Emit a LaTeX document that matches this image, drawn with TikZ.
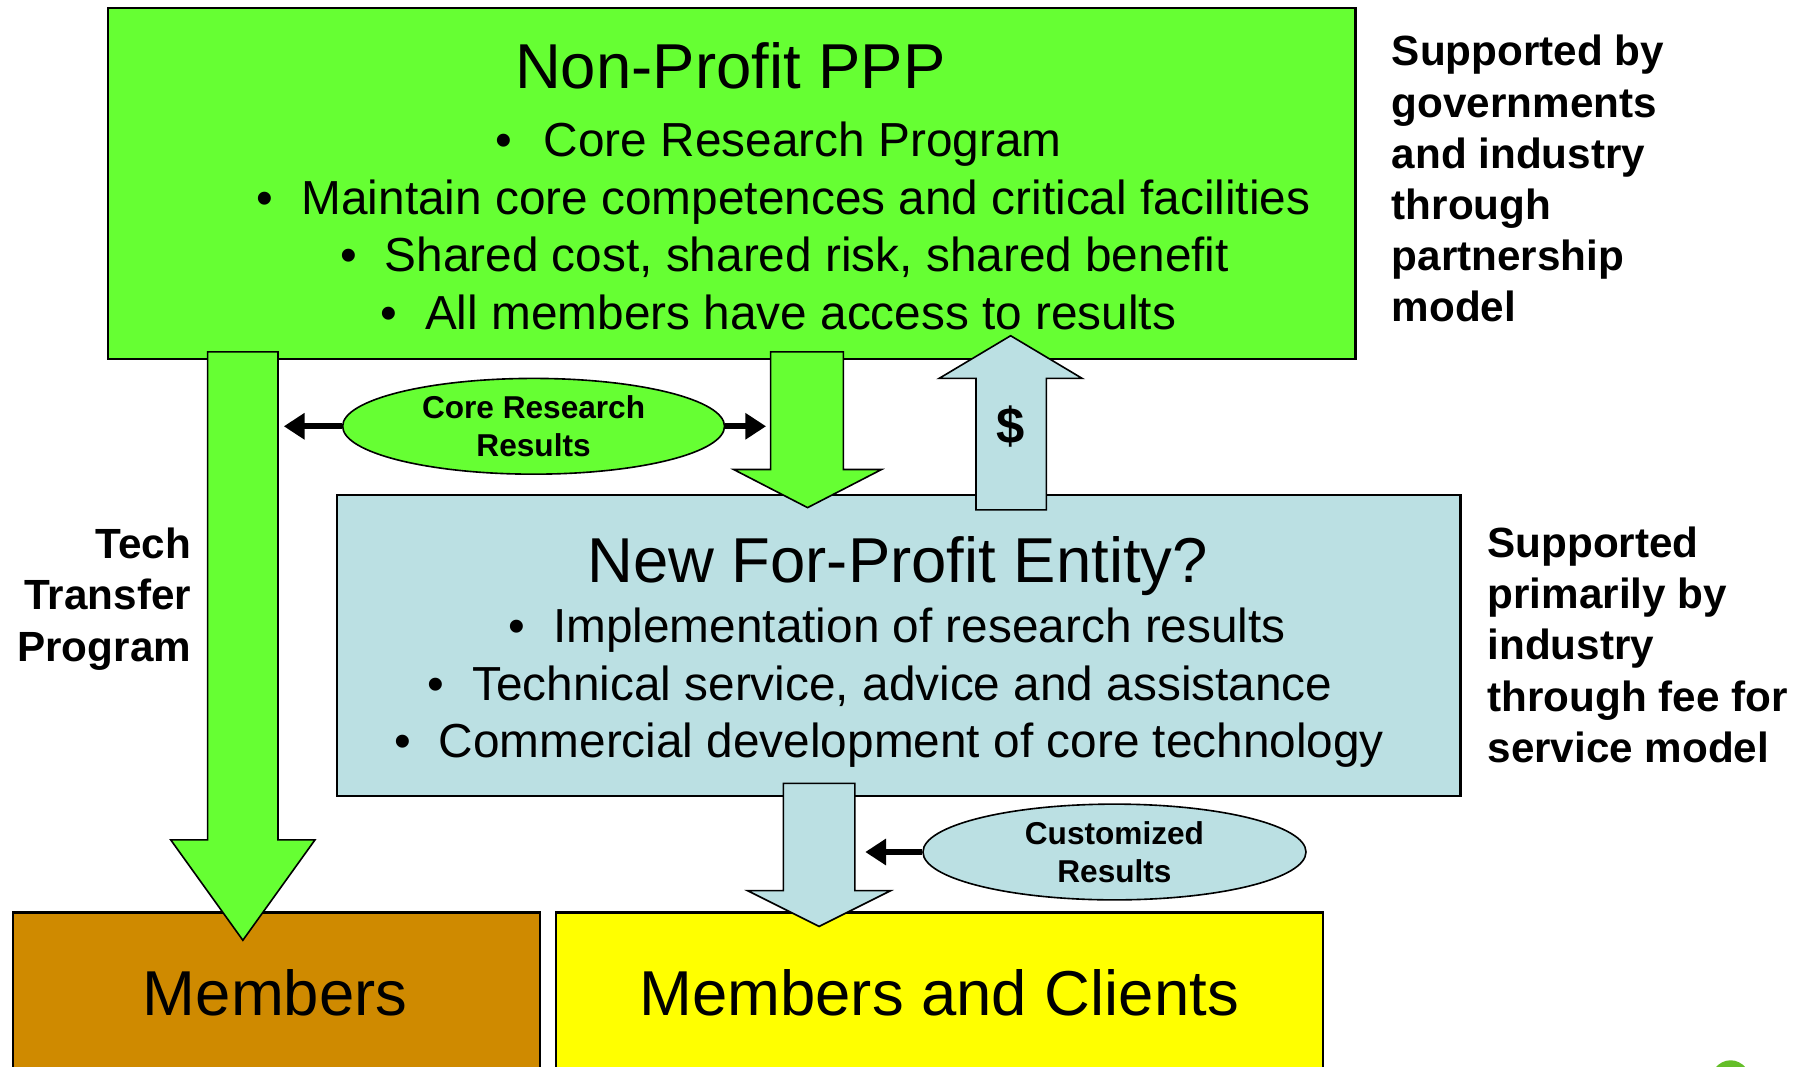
\documentclass[tikz,border=0pt]{standalone}
\usepackage{fontspec}
\setmainfont{Liberation Sans}
\usetikzlibrary{shapes.geometric,arrows.meta}
\definecolor{pppgreen}{RGB}{102,255,51}
\definecolor{entblue}{RGB}{187,224,227}
\definecolor{memorange}{RGB}{207,138,0}
\definecolor{cliyellow}{RGB}{255,255,0}
\definecolor{logogreen}{RGB}{100,190,40}
\begin{document}
\begin{tikzpicture}[x=0.5pt,y=-0.5pt,
  box/.style={draw=black, line width=0.9pt, inner sep=0pt, anchor=north west},
  blockarrow/.style={draw=black, line width=0.7pt, line join=miter},
  titletext/.style={font=\fontsize{27.5}{33}\selectfont, inner sep=0pt, anchor=base},
  bultext/.style={font=\fontsize{20.7}{25}\selectfont, inner sep=0pt, anchor=base west},
  bulmark/.style={font=\fontsize{20.7}{25}\selectfont, inner sep=0pt, anchor=base},
  sidetext/.style={font=\fontsize{18.3}{22.2}\selectfont\bfseries, inner sep=0pt},
  oval/.style={ellipse, draw=black, line width=0.7pt, inner sep=0pt, align=center,
    font=\fontsize{13.7}{16.5}\selectfont\bfseries},
  link/.style={line width=2.5pt, -{Triangle[length=9pt,width=11pt]}}
]
\useasboundingbox (0,0) rectangle (1568,924);
\clip (0,0) rectangle (1568,924);

% main boxes
\node[box, fill=pppgreen, minimum width=540.5pt, minimum height=152pt] (ppp) at (93,6) {};
\node[box, fill=memorange, minimum width=228.5pt, minimum height=75pt] (mem) at (10,790) {};
\node[box, fill=cliyellow, minimum width=332.5pt, minimum height=75pt] (cli) at (481,790) {};
\node[box, fill=entblue, minimum width=487pt, minimum height=130.5pt] (ent) at (291,428) {};

% block arrows
\draw[blockarrow, fill=pppgreen] (180,305) -- (180,728) -- (148,728) -- (210.5,815) -- (273,728) -- (241,728) -- (241,305) -- cycle;
\draw[blockarrow, fill=pppgreen] (668,305) -- (668,407) -- (636,407) -- (700,440) -- (764,407) -- (731,407) -- (731,305) -- cycle;
\draw[blockarrow, fill=entblue] (846,442) -- (846,328) -- (814,328) -- (876,291) -- (938,328) -- (907,328) -- (907,442) -- cycle;
\draw[blockarrow, fill=entblue] (679,679) -- (679,772) -- (648,772) -- (710,803) -- (772,772) -- (741,772) -- (741,679) -- cycle;
\node[font=\fontsize{22}{26}\selectfont\bfseries, inner sep=0pt] (dollar) at (876,370) {\$};

% ellipses and connectors
\node[oval, fill=pppgreen, minimum width=165.5pt, minimum height=41.5pt] (core) at (462.5,369.5) {Core Research\\Results};
\node[oval, fill=entblue, minimum width=166pt, minimum height=41.5pt] (cust) at (966,738.5) {Customized\\Results};
\coordinate (coreL) at (246,369.5);
\coordinate (coreR) at (664,369.5);
\coordinate (custL) at (750,738.5);
\draw[link] (core.west) -- (coreL);
\draw[link] (core.east) -- (coreR);
\draw[link] (cust.west) -- (custL);

% top box text
\node[titletext] (ppptitle) at (633,77) {Non-Profit PPP};
\node[bulmark] (pb1) at (437,135.5) {•};
\node[bultext] (pt1) at (471,135.5) {Core Research Program};
\node[bulmark] (pb2) at (230,185.5) {•};
\node[bultext] (pt2) at (261,185.5) {Maintain core competences and critical facilities};
\node[bulmark] (pb3) at (302,235.5) {•};
\node[bultext] (pt3) at (333,235.5) {Shared cost, shared risk, shared benefit};
\node[bulmark] (pb4) at (337,285.5) {•};
\node[bultext] (pt4) at (368,285.5) {All members have access to results};

% blue box text
\node[titletext] (enttitle) at (778,505) {New For-Profit Entity?};
\node[bulmark] (eb1) at (448,557) {•};
\node[bultext] (et1) at (479,557) {Implementation of research results};
\node[bulmark] (eb2) at (378,607) {•};
\node[bultext] (et2) at (409,607) {Technical service, advice and assistance};
\node[bulmark] (eb3) at (349,657) {•};
\node[bultext] (et3) at (380,657) {Commercial development of core technology};

% bottom box text
\node[titletext] (memtext) at (238.5,880) {Members};
\node[titletext] (clitext) at (814,880) {Members and Clients};

% side labels
\node[sidetext, anchor=base west] (s1a) at (1206,57) {Supported by};
\node[sidetext, anchor=base west] (s1b) at (1206,101.5) {governments};
\node[sidetext, anchor=base west] (s1c) at (1206,146) {and industry};
\node[sidetext, anchor=base west] (s1d) at (1206,190) {through};
\node[sidetext, anchor=base west] (s1e) at (1206,234.5) {partnership};
\node[sidetext, anchor=base west] (s1f) at (1206,279) {model};

\node[sidetext, anchor=base west] (s2a) at (1289,483) {Supported};
\node[sidetext, anchor=base west] (s2b) at (1289,527.5) {primarily by};
\node[sidetext, anchor=base west] (s2c) at (1289,572) {industry};
\node[sidetext, anchor=base west] (s2d) at (1289,616.5) {through fee for};
\node[sidetext, anchor=base west] (s2e) at (1289,661) {service model};

\node[sidetext, anchor=base east] (t1) at (166,484) {Tech};
\node[sidetext, anchor=base east] (t2) at (166,528.5) {Transfer};
\node[sidetext, anchor=base east] (t3) at (166,573) {Program};

% partial logo at bottom right
\fill[logogreen] (1500,942) ellipse [x radius=9.5pt, y radius=11.5pt];
\end{tikzpicture}
\end{document}
